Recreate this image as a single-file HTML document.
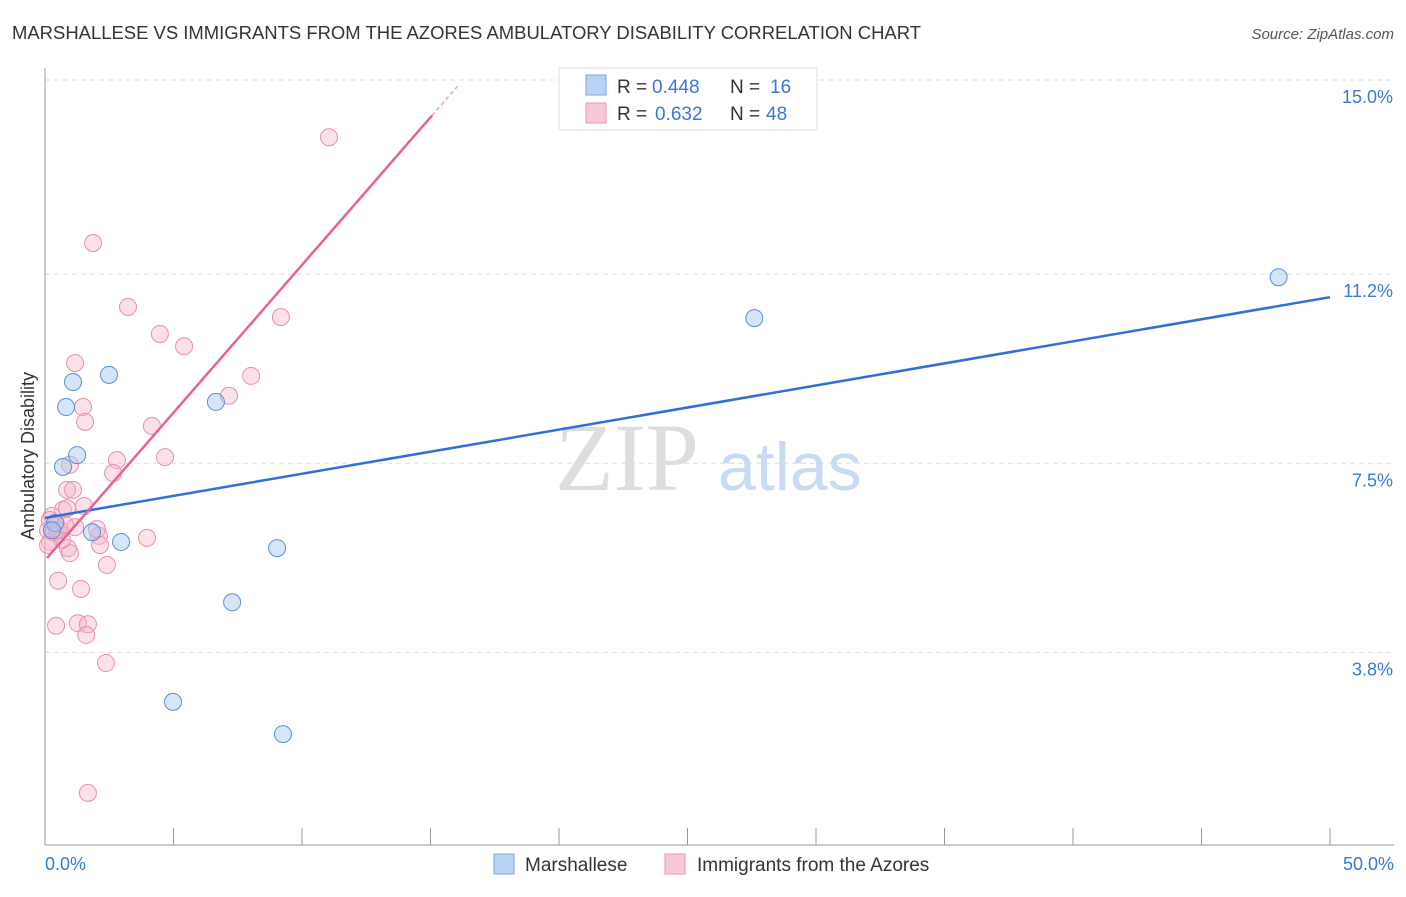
<!DOCTYPE html>
<html><head><meta charset="utf-8"><style>
body{margin:0;background:#fff;font-family:"Liberation Sans",sans-serif}
</style></head><body>
<svg id="c" width="1406" height="892" xmlns="http://www.w3.org/2000/svg">
<text x="12" y="39" font-size="18" fill="#333" textLength="909" lengthAdjust="spacingAndGlyphs">MARSHALLESE VS IMMIGRANTS FROM THE AZORES AMBULATORY DISABILITY CORRELATION CHART</text>
<text x="1394" y="39" font-size="15" fill="#555" font-style="italic" text-anchor="end">Source: ZipAtlas.com</text>
<text x="34" y="456" font-size="18" fill="#333" transform="rotate(-90 34 456)" text-anchor="middle">Ambulatory Disability</text>
<text x="555" y="490" font-size="96" fill="#ddd" font-family="Liberation Serif,serif">ZIP</text>
<text x="718" y="490" font-size="68" fill="#c9dbf2">atlas</text>
<g id="grid"></g><g id="axes"></g><g id="pts"></g><g id="lines"></g>
<g>
<rect x="559" y="68" width="258" height="62" fill="#fff" stroke="#ddd"/>
<rect x="586" y="75" width="20" height="20" fill="#b9d3f5" stroke="#7ea6e0"/>
<text x="617" y="93" font-size="19" fill="#333">R =</text>
<text x="652" y="93" font-size="19" fill="#3a78d8">0.448</text>
<text x="730" y="93" font-size="19" fill="#333">N =</text>
<text x="770" y="93" font-size="19" fill="#3a78d8">16</text>
<rect x="586" y="103" width="20" height="20" fill="#f9c8d6" stroke="#e899b2"/>
<text x="617" y="120" font-size="19" fill="#333">R =</text>
<text x="655" y="120" font-size="19" fill="#3a78d8">0.632</text>
<text x="730" y="120" font-size="19" fill="#333">N =</text>
<text x="766" y="120" font-size="19" fill="#3a78d8">48</text>
</g>
<g>
<rect x="494" y="854" width="20" height="20" fill="#b9d3f5" stroke="#7ea6e0"/>
<text x="525" y="871" font-size="19" fill="#333">Marshallese</text>
<rect x="665" y="854" width="20" height="20" fill="#f9c8d6" stroke="#e899b2"/>
<text x="697" y="871" font-size="19" fill="#333">Immigrants from the Azores</text>
</g>
</svg>
<script>
const yTicks=[15.0,11.2,7.5,3.8];
const yTickLabels=["15.0%","11.2%","7.5%","3.8%"];
const xTickLabels=["0.0%","50.0%"];
const blueX=[48.0,27.6,2.49,1.09,6.65,0.82,1.25,0.70,1.83,2.96,9.03,7.28,4.98,9.26,0.39,0.27];
const blueY=[11.14,10.34,9.23,9.09,8.70,8.60,7.66,7.43,6.15,5.96,5.84,4.78,2.83,2.20,6.33,6.19];
const pinkX=[11.05,1.87,3.23,9.18,4.47,5.41,1.17,8.02,7.16,1.48,1.56,4.16,4.67,2.80,0.97,2.65,0.86,1.09,1.52,0.70,0.86,0.27,1.17,0.43,0.12,0.19,0.58,2.10,2.14,3.97,0.89,0.97,2.41,0.51,1.40,0.43,1.28,1.67,1.60,2.37,1.67,0.35,0.66,0.12,0.19,0.47,0.78,2.02];
const pinkY=[13.88,11.81,10.56,10.36,10.03,9.79,9.46,9.21,8.82,8.60,8.31,8.23,7.62,7.56,7.47,7.31,6.98,6.98,6.66,6.59,6.62,6.47,6.25,6.31,6.19,5.96,6.19,6.08,5.90,6.04,5.84,5.74,5.51,5.20,5.04,4.32,4.37,4.35,4.14,3.59,1.05,6.15,6.00,5.90,6.39,6.19,6.29,6.21];
const blueTrend=[6.43,10.75];
const pinkTrend={intercept:5.6,slope:0.578,solidEnd:15.06,dashEnd:16.07};
const X=v=>45+v*25.7, Y=v=>80+(15-v)*51.1;
const NS="http://www.w3.org/2000/svg";
function mk(p,t,a){const e=document.createElementNS(NS,t);for(const k in a)e.setAttribute(k,a[k]);document.getElementById(p).appendChild(e);return e;}
yTicks.forEach((t,i)=>{
 let l=mk('grid','line',{x1:45,x2:1394,y1:Y(t),y2:Y(t),stroke:'#ddd','stroke-dasharray':'5,4'});
 
 
 let tx=mk('grid','text',{x:1393,y:Y(t)+23,'font-size':18,fill:'#3a78d8','text-anchor':'end'});
 tx.textContent=yTickLabels[i];
 
 
});
mk('axes','line',{x1:45,x2:45,y1:68,y2:845,stroke:'#999'});
mk('axes','line',{x1:45,x2:1394,y1:845,y2:845,stroke:'#999'});
for(let i=0;i<=10;i++){let t=mk('axes','line',{x1:X(i*5),x2:X(i*5),y1:828,y2:845,stroke:'#999'});
 
 }
[[0,'start',45],[1,'end',1394]].forEach(([i,a,x])=>{let t=mk('axes','text',{x:x,y:870,'font-size':18,fill:'#3a78d8','text-anchor':a});t.textContent=xTickLabels[i];
 
 });
pinkX.forEach((x,i)=>{let c=mk('pts','circle',{cx:X(x),cy:Y(pinkY[i]),r:8.5,fill:'rgba(248,180,200,0.4)',stroke:'#e890ab','stroke-width':1});
 
 });
blueX.forEach((x,i)=>{let c=mk('pts','circle',{cx:X(x),cy:Y(blueY[i]),r:8.5,fill:'rgba(165,198,240,0.45)',stroke:'#5b8fd8','stroke-width':1});
 
 });
let bl=mk('lines','line',{x1:X(0),y1:Y(blueTrend[0]),x2:X(50),y2:Y(blueTrend[1]),stroke:'#2f6fd6','stroke-width':2.5});


const pf=x=>pinkTrend.intercept+pinkTrend.slope*x;
let pl=mk('lines','line',{x1:X(0.08),y1:Y(pf(0.08)),x2:X(pinkTrend.solidEnd),y2:Y(pf(pinkTrend.solidEnd)),stroke:'#e8648e','stroke-width':2.5});


let pd=mk('lines','line',{x1:X(pinkTrend.solidEnd),y1:Y(pf(pinkTrend.solidEnd)),x2:X(pinkTrend.dashEnd),y2:Y(pf(pinkTrend.dashEnd)),stroke:'#f0a0b8','stroke-width':1.5,'stroke-dasharray':'4,3'});


</script>
</body></html>
